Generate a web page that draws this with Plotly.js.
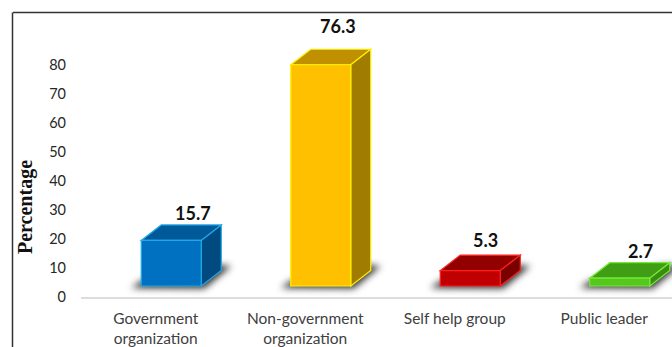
<!DOCTYPE html>
<html>
<head>
<meta charset="utf-8">
<script src="https://cdn.plot.ly/plotly-3.0.1.min.js"></script>
<style>html,body{margin:0;padding:0;background:#fff;overflow:hidden}#chart{width:672px;height:347px}</style>
</head>
<body>
<div id="chart"></div>
<script>
// Survey results: share of respondents by source, drawn as pseudo-3D columns.
const categories = ["Government<br>organization", "Non-government<br>organization", "Self help group", "Public leader"];
const values = [15.7, 76.3, 5.3, 2.7];
const yTicks = [0, 10, 20, 30, 40, 50, 60, 70, 80];
const frontColors = ["#0070C0", "#FFC000", "#C00000", "#55C81E"];
const edgeColors = ["#20A8E8", "#FFF000", "#FF2020", "#78E838"];
const topColors = ["#005A9A", "#BF9000", "#930000", "#3F9E14"];
const sideColors = ["#004A80", "#A07C00", "#7A0000", "#388C10"];

// Axis geometry and the size of one pixel in data units.
const W = 672, H = 347, L = 81, R = 0, T = 20, B = 50;
const unitsX = 149.5, unitsY = 2.9;
const xRange = [-0.5, -0.5 + (W - L - R) / unitsX];
const yRange = [0, (H - T - B) / unitsY];
const px = p => p / unitsX, py = p => p / unitsY;

// The columns stand on a floor slightly above the axis line.
const floor = py(11);
const shiftX = px(15.5), halfW = px(30), depthX = px(20), depthY = py(15.5);

const centers = categories.map((_, i) => i);
const shapes = [];
const poly = (pts, fill, line) => shapes.push({
  type: "path", layer: "below", xref: "x", yref: "y",
  path: "M" + pts.map(p => p[0] + "," + p[1]).join("L") + "Z",
  fillcolor: fill, line: line ? {color: line, width: 1.2} : {width: 0}
});

// Floor shadow: one dark wedge per column, feathered after drawing.
centers.forEach((c, i) => {
  const x0 = c + shiftX - halfW, x1 = c + shiftX + halfW;
  poly([
    [x0 - px(10), floor - py(2)],
    [x1 + px(3), floor - py(2.5)],
    [x1 + px(30), floor + py(20)],
    [x1 + px(14), floor + py(21)],
    [x0, floor + py(5)]
  ], "rgba(25,25,25,0.9)");
});
const shadowCount = shapes.length;

// Top and side faces follow each column's value.
centers.forEach((c, i) => {
  const x0 = c + shiftX - halfW, x1 = c + shiftX + halfW;
  const top = floor + values[i];
  poly([[x0, top], [x1, top], [x1 + depthX, top + depthY], [x0 + depthX, top + depthY]], topColors[i], edgeColors[i]);
  poly([[x1, floor], [x1, top], [x1 + depthX, top + depthY], [x1 + depthX, floor + depthY]], sideColors[i], edgeColors[i]);
});

// Frame around the chart area, open towards the right and bottom.
const fx = p => (p - L) / (W - L - R), fy = p => (H - B - p) / (H - T - B);
const frameColor = "#333333";
shapes.push({type: "line", xref: "paper", yref: "paper", x0: fx(13), x1: fx(672), y0: fy(12.5), y1: fy(12.5), line: {color: frameColor, width: 1.5}});
shapes.push({type: "line", xref: "paper", yref: "paper", x0: fx(12.5), x1: fx(12.5), y0: fy(12.5), y1: fy(347), line: {color: frameColor, width: 1.5}});

const labelShift = [22, 17, 15, 21];
const labelRise = [-1, 10, 2, -1];
const annotations = values.map((v, i) => ({
  x: centers[i] + shiftX + px(labelShift[i]),
  y: floor + v + depthY,
  yshift: labelRise[i],
  text: v.toFixed(1),
  showarrow: false,
  xanchor: "center",
  yanchor: "bottom",
  font: {family: "Lato, sans-serif", size: 18, color: "#111111", weight: 700}
}));

// Axis title sits beside the lower part of the axis.
annotations.push({
  xref: "paper", yref: "paper", x: fx(25), y: fy(207),
  text: "Percentage", textangle: -90, showarrow: false,
  xanchor: "center", yanchor: "middle",
  font: {family: "Liberation Serif, serif", size: 20, color: "#111111", weight: 700}
});

const columns = {
  type: "bar",
  x: centers.map(c => c + shiftX),
  y: values,
  base: values.map(() => floor),
  width: 2 * halfW,
  marker: {color: frontColors, line: {color: edgeColors, width: 1.2}},
  hoverinfo: "y"
};

Plotly.newPlot("chart", [columns], {
  width: W, height: H,
  margin: {l: L, r: R, t: T, b: B, pad: 0},
  paper_bgcolor: "#ffffff", plot_bgcolor: "#ffffff",
  showlegend: false,
  bargap: 0,
  xaxis: {
    type: "linear", range: xRange, tickmode: "array", tickvals: centers, ticktext: categories,
    showgrid: false, zeroline: false, showline: true, linecolor: "#DDDDDD", linewidth: 2,
    ticks: "", ticklabelstandoff: 6,
    tickfont: {family: "Lato, sans-serif", size: 15.5, color: "#404040"}
  },
  yaxis: {
    range: yRange, tickmode: "array", tickvals: yTicks,
    showgrid: false, zeroline: false, showline: false, ticks: "", ticklabelstandoff: 14,
    tickfont: {family: "Lato, sans-serif", size: 14.5, color: "#262626"}
  },
  shapes, annotations
}, {displayModeBar: false, staticPlot: true}).then(gd => {
  // Feather the floor shadows.
  gd.querySelectorAll(".layer-subplot .shapelayer path").forEach((el, i) => {
    if (i < shadowCount) el.style.filter = "blur(3.5px)";
  });
});
</script>
</body>
</html>
